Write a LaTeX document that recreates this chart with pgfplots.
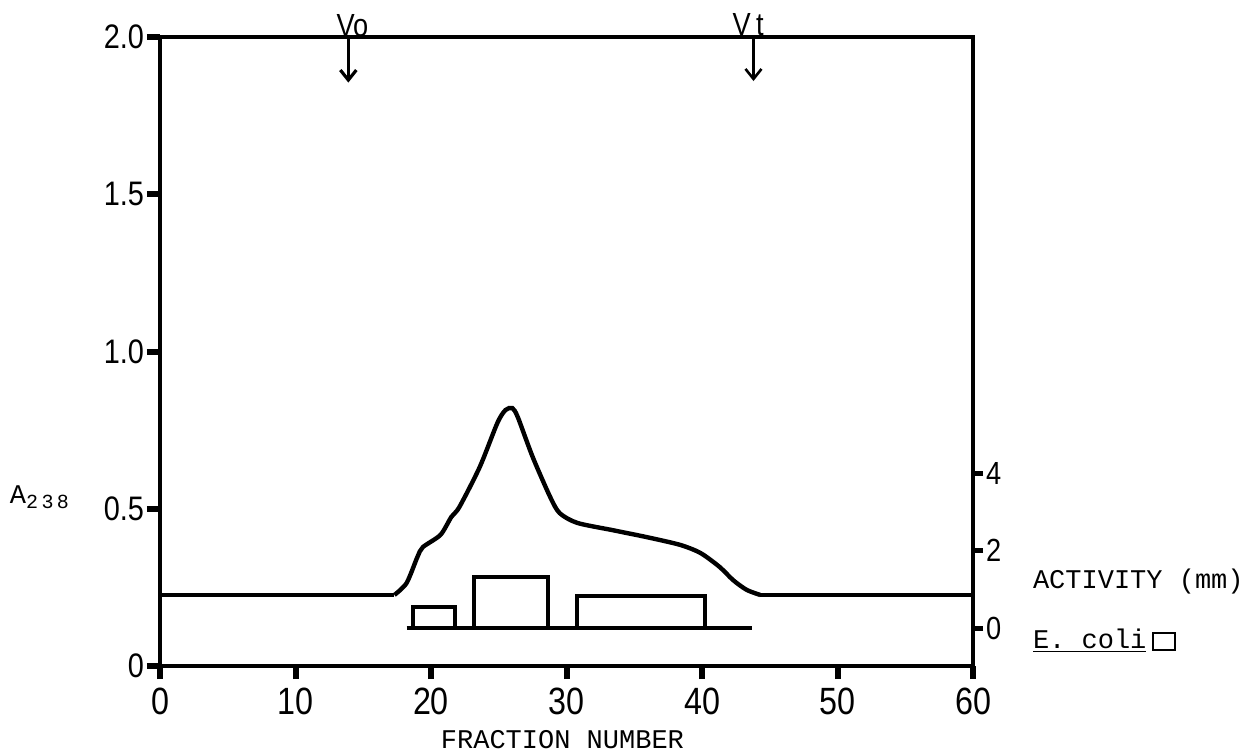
\documentclass[border=0pt]{standalone}
\usepackage{fontspec}
\usepackage{pgfplots}
\pgfplotsset{compat=1.18}
\usetikzlibrary{arrows.meta}
\newfontfamily\hand[FakeStretch=0.85]{Liberation Sans}
\newfontfamily\mono{Liberation Mono}
\setmainfont{Liberation Sans}

% A238 elution profile (peak region)
\pgfplotstableread{
x     a
17.3  0.226
18.2  0.264
19.0  0.347
19.4  0.378
20.7  0.417
21.5  0.474
22.1  0.506
23.6  0.633
24.9  0.773
25.5  0.814
26.0  0.820
26.4  0.792
27.5  0.665
28.8  0.537
29.5  0.486
30.8  0.455
33.4  0.432
35.9  0.410
38.4  0.385
39.9  0.359
41.3  0.315
42.3  0.273
43.3  0.242
44.3  0.226
}\absorb

\begin{document}
\begin{tikzpicture}
\begin{axis}[
  name=main,
  scale only axis, width=406.5pt, height=314.5pt,
  xmin=0, xmax=60, ymin=0, ymax=2,
  axis line style={line width=2.4pt},
  xtick={0,10,...,60}, ytick={0,0.5,1,1.5,2},
  yticklabels={0,0.5,1.0,1.5,2.0},
  xtick pos=bottom, ytick pos=left,
  tick align=outside, major tick length=6.5pt,
  tick style={line width=3pt, black},
  /pgf/number format/assume math mode=true,
  xticklabel style={font=\hand\fontsize{19}{19}\selectfont, yshift=-1pt},
  yticklabel style={font=\hand\fontsize{17}{17}\selectfont, xshift=2pt},
  clip=false,
]
  % baseline before and after the peak
  \addplot[black, line width=2.2pt] coordinates {(0,0.226) (17.3,0.226)};
  \addplot[black, line width=2.2pt] coordinates {(44.3,0.226) (60,0.226)};
  \addplot[black, line width=2.2pt, smooth, tension=0.45] table[x=x, y=a] {\absorb};

  % void and total volume markers
  \addplot[black, line width=1.4pt, -{Straight Barb[length=5pt,width=8pt,line width=1.6pt]}]
    coordinates {(13.9,2.0) (13.9,1.855)};
  \addplot[black, line width=1.2pt, -{Straight Barb[length=5pt,width=8pt,line width=1.3pt]}]
    coordinates {(43.8,2.0) (43.8,1.86)};
  \node[anchor=base, font=\hand\fontsize{16}{16}\selectfont, inner sep=0pt] at (axis cs:14.2,2.003) {Vo};
  \node[anchor=base, font=\hand\fontsize{16}{16}\selectfont, inner sep=0pt] at (axis cs:43.4,2.006) {V\,t};

  % axis titles
  \node[anchor=base west, font=\mono\fontsize{13.5}{13.5}\selectfont, inner sep=0pt]
    at (axis cs:-11.1,0.518) {A\raisebox{-0.35ex}{\fontsize{10}{10}\selectfont 2\,3\,8}};
  \node[anchor=base, font=\mono\fontsize{13.5}{13.5}\selectfont, inner sep=0pt]
    at (axis cs:29.7,-0.261) {FRACTION NUMBER};
  \node[anchor=base west, font=\mono\fontsize{13.5}{13.5}\selectfont, inner sep=0pt]
    at (axis cs:64.4,0.248) {ACTIVITY (mm)};
  \node[anchor=base west, font=\mono\fontsize{13.5}{13.5}\selectfont, inner sep=0pt]
    at (axis cs:64.4,0.057) {\underline{E.~coli}};
  \node[draw, line width=1pt, minimum width=11pt, minimum height=8.5pt, inner sep=0pt]
    at (axis cs:74.1,0.078) {};
\end{axis}

\begin{axis}[
  scale only axis, width=406.5pt, height=314.5pt,
  xmin=0, xmax=60, ymin=-0.98, ymax=15.25,
  axis x line=none, axis y line*=right,
  axis line style={line width=2.4pt},
  ytick={0,2,4},
  tick align=outside, major tick length=5pt,
  tick style={line width=2.5pt, black},
  /pgf/number format/assume math mode=true,
  yticklabel style={font=\hand\fontsize{16}{16}\selectfont, xshift=-2pt},
]
  % E. coli activity bars
  \addplot[black, line width=2pt] coordinates {(18.2,0) (43.7,0)};
  \addplot[black, line width=2pt] coordinates {(18.7,0) (18.7,0.55) (21.8,0.55) (21.8,0)};
  \addplot[black, line width=2pt] coordinates {(23.2,0) (23.2,1.32) (28.6,1.32) (28.6,0)};
  \addplot[black, line width=2pt] coordinates {(30.8,0) (30.8,0.83) (40.2,0.83) (40.2,0)};
\end{axis}

\pgfresetboundingbox
\path ([shift={(-80pt,-42.5pt)}]main.south west) rectangle ([shift={(135pt,18.5pt)}]main.north east);
\end{tikzpicture}
\end{document}
